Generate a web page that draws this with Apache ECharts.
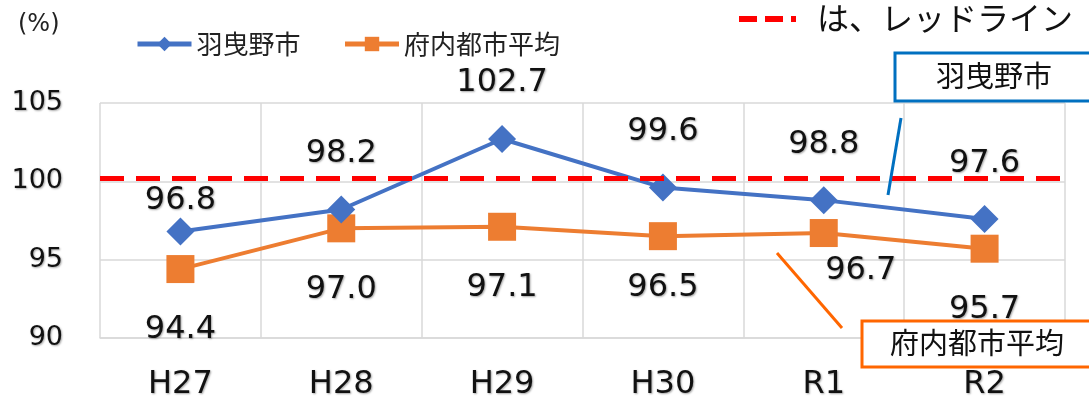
<!DOCTYPE html>
<html>
<head>
<meta charset="utf-8">
<script src="https://cdn.jsdelivr.net/npm/echarts@6/dist/echarts.min.js"></script>
<style>
  html, body { margin: 0; padding: 0; background: #fff; }
  #chart { width: 1089px; height: 402px; }
</style>
</head>
<body>
<div id="chart"></div>
<script>
const years = ["H27", "H28", "H29", "H30", "R1", "R2"];
const habikinoValues = [96.8, 98.2, 102.7, 99.6, 98.8, 97.6];
const prefAverageValues = [94.4, 97.0, 97.1, 96.5, 96.7, 95.7];
const redLineValue = 100.2;
const yTicks = { min: 90, max: 105, interval: 5 };

const fontFamily = "'DejaVu Sans', 'Noto Sans CJK JP', sans-serif";
const jpFont = "'Noto Sans CJK JP', sans-serif";

const labelShadow = {
  textShadowColor: "rgba(0,0,0,0.35)",
  textShadowBlur: 2,
  textShadowOffsetX: 1,
  textShadowOffsetY: 1,
};

// label placement per point (Excel labels were moved by hand)
// blue labels sit above the marker, the first one is pulled down near it
const blueLabelRise = [31, 56, 56, 56, 55, 55];
const orangeLabelDist = [31, 31, 31, 22, 8, 31];
const orangeLabelShiftX = [0, 0, 0, 0, 37, 0];

const chart = echarts.init(document.getElementById("chart"));

const option = {
  animation: false,
  grid: { left: 100, right: 24, top: 103, bottom: 64 },
  legend: {
    left: 130,
    top: 26,
    itemWidth: 54,
    itemHeight: 18,
    itemGap: 42,
    lineStyle: { width: 5 },
    textStyle: { fontFamily: jpFont, fontSize: 26, color: "#222" },
    data: ["羽曳野市", "府内都市平均"],
  },
  xAxis: {
    type: "category",
    data: years,
    boundaryGap: true,
    axisLine: { lineStyle: { color: "#d9d9d9", width: 1.5 } },
    axisTick: { show: false },
    splitLine: { show: true, lineStyle: { color: "#d9d9d9", width: 1.5 } },
    axisLabel: {
      margin: 31,
      fontSize: 32,
      fontFamily: fontFamily,
      color: "#111",
      ...labelShadow,
    },
  },
  yAxis: {
    type: "value",
    min: yTicks.min,
    max: yTicks.max,
    interval: yTicks.interval,
    axisLine: { show: false },
    axisTick: { show: false },
    splitLine: { lineStyle: { color: "#d9d9d9", width: 1.5 } },
    axisLabel: {
      margin: 37,
      fontSize: 27,
      fontFamily: fontFamily,
      color: "#111",
      ...labelShadow,
    },
  },
  series: [
    {
      name: "府内都市平均",
      type: "line",
      data: prefAverageValues.map((v, i) => ({
        value: v,
        label: {
          position: "bottom",
          distance: orangeLabelDist[i],
          offset: [orangeLabelShiftX[i], 0],
        },
      })),
      symbol: "rect",
      symbolSize: 28,
      itemStyle: { color: "#ED7D31" },
      lineStyle: { color: "#ED7D31", width: 4 },
      label: {
        show: true,
        position: "bottom",
        fontSize: 32,
        fontFamily: fontFamily,
        color: "#111",
        formatter: (p) => p.value.toFixed(1),
        ...labelShadow,
      },
      z: 3,
    },
    {
      name: "羽曳野市",
      type: "line",
      data: habikinoValues.map((v, i) => ({
        value: v,
        label: { position: "inside", offset: [0, -blueLabelRise[i]] },
      })),
      symbol: "diamond",
      symbolSize: 28,
      itemStyle: { color: "#4472C4" },
      lineStyle: { color: "#4472C4", width: 4 },
      label: {
        show: true,
        position: "inside",
        fontSize: 32,
        fontFamily: fontFamily,
        color: "#111",
        formatter: (p) => p.value.toFixed(1),
        ...labelShadow,
      },
      markLine: {
        silent: true,
        symbol: "none",
        label: { show: false },
        lineStyle: { color: "#ff0000", width: 5, type: [24, 12] },
        data: [{ yAxis: redLineValue }],
      },
      z: 4,
    },
  ],
  graphic: [
    {
      type: "text",
      left: 18,
      top: 13,
      style: { text: "(%)", font: "24px " + fontFamily, fill: "#222" },
    },
    {
      type: "line",
      shape: { x1: 739, y1: 19, x2: 796, y2: 19 },
      style: { stroke: "#ff0000", lineWidth: 6, lineDash: [18, 8] },
    },
    {
      type: "text",
      left: 817,
      top: 2,
      style: { text: "は、レッドライン", font: "32px " + jpFont, fill: "#111" },
    },
    {
      type: "rect",
      shape: { x: 895, y: 53, width: 200, height: 48 },
      style: { fill: "#fff", stroke: "#0070C0", lineWidth: 3 },
      z: 10,
    },
    {
      type: "text",
      x: 994,
      y: 76,
      style: {
        text: "羽曳野市",
        font: "29px " + jpFont,
        fill: "#111",
        align: "center",
        verticalAlign: "middle",
      },
      z: 11,
    },
    {
      type: "line",
      shape: { x1: 901, y1: 118, x2: 888, y2: 195 },
      style: { stroke: "#0070C0", lineWidth: 3 },
      z: 10,
    },
    {
      type: "rect",
      shape: { x: 862, y: 321, width: 240, height: 46 },
      style: { fill: "#fff", stroke: "#FF6600", lineWidth: 3 },
      z: 10,
    },
    {
      type: "text",
      x: 977,
      y: 343,
      style: {
        text: "府内都市平均",
        font: "29px " + jpFont,
        fill: "#111",
        align: "center",
        verticalAlign: "middle",
      },
      z: 11,
    },
    {
      type: "line",
      shape: { x1: 777, y1: 253, x2: 842, y2: 328 },
      style: { stroke: "#FF6600", lineWidth: 3 },
      z: 10,
    },
  ],
};

chart.setOption(option);
</script>
</body>
</html>
